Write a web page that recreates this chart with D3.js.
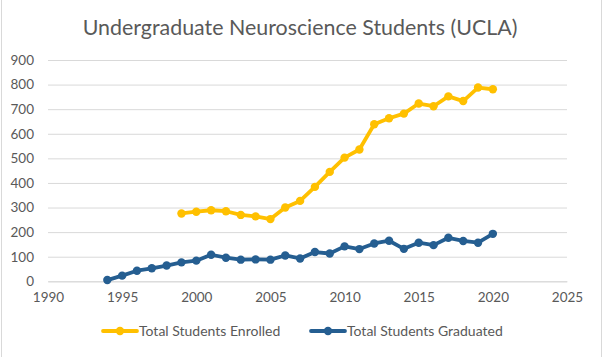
<!DOCTYPE html>
<html><head><meta charset="utf-8">
<script src="https://cdn.jsdelivr.net/npm/d3@7"></script>
<style>html,body{margin:0;padding:0;background:#fff;}svg{display:block;}</style>
</head><body><svg id="c" width="603" height="357"></svg>
<script>
const title = "Undergraduate Neuroscience Students (UCLA)";
const enrolledYears = [1999,2000,2001,2002,2003,2004,2005,2006,2007,2008,2009,2010,2011,2012,2013,2014,2015,2016,2017,2018,2019,2020];
const enrolledValues = [276,283,289,285,270,264,253,300,327,384,445,503,536,639,663,682,723,712,752,733,788,781];
const graduatedYears = [1994,1995,1996,1997,1998,1999,2000,2001,2002,2003,2004,2005,2006,2007,2008,2009,2010,2011,2012,2013,2014,2015,2016,2017,2018,2019,2020];
const graduatedValues = [5,23,43,53,64,77,84,108,96,88,89,88,105,93,119,113,142,131,154,165,132,157,147,177,164,157,193];
const xTicks = [1990,1995,2000,2005,2010,2015,2020,2025];
const yTicks = [0,100,200,300,400,500,600,700,800,900];
const seriesNames = ["Total Students Enrolled","Total Students Graduated"];
const colors = ["#FFC000","#255E91"];

const svg = d3.select("#c");
const font = "Lato, 'Open Sans', sans-serif";
svg.append("rect").attr("x",1.5).attr("y",-2).attr("width",600).attr("height",361)
  .attr("fill","#fff").attr("stroke","#D9D9D9");

const x = d3.scaleLinear().domain([1990,2025]).range([48,567]);
const y = d3.scaleLinear().domain([0,900]).range([281.3,60]);

// title
const t = svg.append("text").attr("x",300).attr("y",35).attr("text-anchor","middle")
  .attr("font-family",font).attr("font-size",22).attr("fill","#595959").text(title);
const tw = t.node().getComputedTextLength();
t.attr("font-size", 22*435/tw);

// gridlines
const yAxis = d3.axisLeft(y).tickValues(yTicks).tickSize(-(567-48)).tickPadding(14);
const gy = svg.append("g").attr("transform","translate(48,0)").call(yAxis);
gy.select(".domain").remove();
gy.selectAll(".tick line").attr("stroke","#D9D9D9").attr("stroke-width",1);
gy.selectAll(".tick text").attr("font-family",font).attr("font-size",13.5).attr("fill","#595959").attr("x",-14);

const xAxis = d3.axisBottom(x).tickValues(xTicks).tickFormat(d3.format("d")).tickSize(0).tickPadding(11);
const gx = svg.append("g").attr("transform","translate(0,281.3)").call(xAxis);
gx.select(".domain").attr("stroke","#D9D9D9");
gx.selectAll(".tick text").attr("font-family",font).attr("font-size",13.5).attr("fill","#595959");

const line = d3.line().x(d=>x(d[0])).y(d=>y(d[1]));
const sets = [d3.zip(enrolledYears,enrolledValues), d3.zip(graduatedYears,graduatedValues)];
[1,0].forEach(i=>{
  svg.append("path").datum(sets[i]).attr("d",line).attr("fill","none")
    .attr("stroke",colors[i]).attr("stroke-width",3.8).attr("stroke-linejoin","round").attr("stroke-linecap","round");
  svg.append("g").selectAll("circle").data(sets[i]).join("circle")
    .attr("cx",d=>x(d[0])).attr("cy",d=>y(d[1])).attr("r",4.2).attr("fill",colors[i]);
});

// legend
const legendX = [103,311];
seriesNames.forEach((n,i)=>{
  const g = svg.append("g").attr("transform",`translate(${legendX[i]},331)`);
  g.append("line").attr("x1",0).attr("x2",34).attr("y1",0).attr("y2",0)
    .attr("stroke",colors[i]).attr("stroke-width",3.8).attr("stroke-linecap","round");
  g.append("circle").attr("cx",17).attr("cy",0).attr("r",4.2).attr("fill",colors[i]);
  g.append("text").attr("x",36).attr("y",5).attr("font-family",font).attr("font-size",14)
    .attr("fill","#595959").text(n);
});
</script></body></html>
